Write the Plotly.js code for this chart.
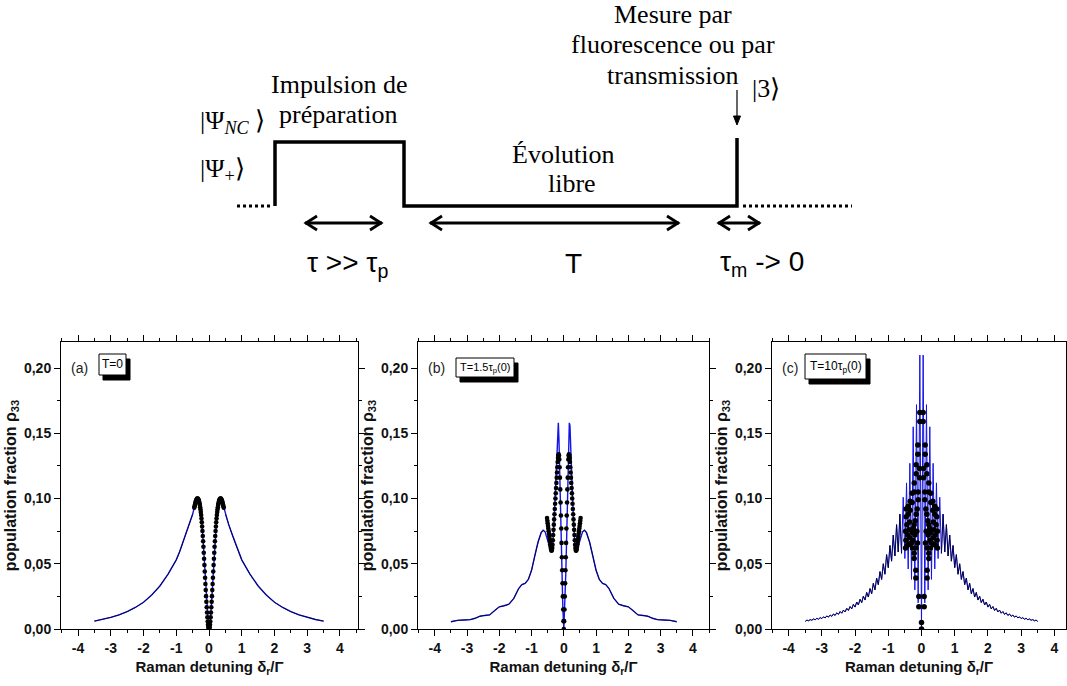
<!DOCTYPE html>
<html>
<head>
<meta charset="utf-8">
<script src="https://cdn.plot.ly/plotly-3.0.1.min.js"></script>
<style>html,body{margin:0;padding:0;background:#fff;}#chart{width:1067px;height:686px;}</style>
</head>
<body>
<div id="chart"></div>
<script>
// ---------- DATA ----------
// panel (a): T = 0
const xA = [-3.5,-3.25,-3,-2.75,-2.5,-2.25,-2,-1.75,-1.5,-1.25,-1,-0.9,-0.8,-0.7,-0.6,-0.5,
 -0.45,-0.44,-0.43,-0.42,-0.41,-0.40,-0.39,-0.38,-0.37,-0.36,-0.35,-0.34,-0.33,-0.32,-0.31,-0.30,
 -0.29,-0.28,-0.27,-0.26,-0.25,-0.24,-0.23,-0.22,-0.21,-0.20,-0.19,-0.18,-0.17,-0.16,-0.15,-0.14,
 -0.13,-0.12,-0.11,-0.10,-0.09,-0.08,-0.07,-0.06,-0.05,-0.04,-0.03,-0.02,-0.01,0,
 0.01,0.02,0.03,0.04,0.05,0.06,0.07,0.08,0.09,0.10,0.11,0.12,0.13,0.14,0.15,0.16,0.17,0.18,0.19,
 0.20,0.21,0.22,0.23,0.24,0.25,0.26,0.27,0.28,0.29,0.30,0.31,0.32,0.33,0.34,0.35,0.36,0.37,0.38,
 0.39,0.40,0.41,0.42,0.43,0.44,0.45,
 0.5,0.6,0.7,0.8,0.9,1,1.25,1.5,1.75,2,2.25,2.5,2.75,3,3.25,3.5];
const yA = [0.006,0.0073,0.0089,0.0108,0.0133,0.0165,0.0205,0.026,0.033,0.042,0.053,0.059,0.066,0.073,0.080,0.088,
 0.0930,0.0940,0.0950,0.0960,0.0970,0.0980,0.0987,0.0993,0.0997,0.1000,0.1000,0.0998,0.0995,0.0990,0.0983,0.0974,
 0.0963,0.0950,0.0934,0.0916,0.0896,0.0873,0.0847,0.0818,0.0786,0.0751,0.0713,0.0673,0.0630,0.0585,0.0538,0.0490,
 0.0441,0.0393,0.0345,0.0298,0.0252,0.0208,0.0167,0.0127,0.0090,0.0058,0.0033,0.0015,0.0004,0,
 0.0004,0.0015,0.0033,0.0058,0.0090,0.0127,0.0167,0.0208,0.0252,0.0298,0.0345,0.0393,0.0441,0.0490,0.0538,0.0585,0.0630,0.0673,0.0713,
 0.0751,0.0786,0.0818,0.0847,0.0873,0.0896,0.0916,0.0934,0.0950,0.0963,0.0974,0.0983,0.0990,0.0995,0.0998,0.1000,0.1000,0.0997,0.0993,
 0.0987,0.0980,0.0970,0.0960,0.0950,0.0940,0.0930,
 0.088,0.080,0.073,0.066,0.059,0.053,0.042,0.033,0.026,0.0205,0.0165,0.0133,0.0108,0.0089,0.0073,0.006];

// panel (b): T = 1.5 tau_p(0), blue curve
const xB = [-3.5,-3.3,-3.1,-2.9,-2.75,-2.6,-2.45,-2.3,-2.15,-2.0,-1.85,-1.7,-1.55,-1.4,-1.3,-1.2,-1.1,-1.0,-0.9,-0.8,
 -0.7,-0.64,-0.58,-0.52,-0.46,-0.42,-0.38,-0.34,-0.30,-0.26,-0.22,-0.19,-0.17,-0.15,-0.12,-0.09,-0.06,-0.03,0,
 0.03,0.06,0.09,0.12,0.15,0.17,0.19,0.22,0.26,0.30,0.34,0.38,0.42,0.46,0.52,0.58,0.64,0.7,
 0.8,0.9,1.0,1.1,1.2,1.3,1.4,1.55,1.7,1.85,2.0,2.15,2.3,2.45,2.6,2.75,2.9,3.1,3.3,3.5];
const yB = [0.0056,0.0066,0.0069,0.0072,0.0082,0.0098,0.0104,0.0108,0.0140,0.0170,0.0178,0.0190,0.0235,0.0310,0.0340,0.0350,0.0380,0.0450,0.0560,0.0665,
 0.0740,0.0757,0.0745,0.0700,0.0645,0.0612,0.0603,0.0660,0.0830,0.1080,0.1400,0.1560,0.1580,0.1450,0.1050,0.0720,0.0420,0.0160,0,
 0.0160,0.0420,0.0720,0.1050,0.1450,0.1580,0.1560,0.1400,0.1080,0.0830,0.0660,0.0603,0.0612,0.0645,0.0700,0.0745,0.0757,0.0740,
 0.0665,0.0560,0.0450,0.0380,0.0350,0.0340,0.0310,0.0235,0.0190,0.0178,0.0170,0.0140,0.0108,0.0104,0.0098,0.0082,0.0072,0.0069,0.0066,0.0056];
// panel (b): black dots
const xBdots = [-0.52,-0.51,-0.50,-0.49,-0.48,-0.47,-0.46,-0.45,-0.44,-0.43,-0.42,-0.41,-0.40,-0.39,-0.38,-0.37,-0.36,-0.35,
 -0.34,-0.33,-0.32,-0.31,-0.30,-0.29,-0.28,-0.27,-0.26,-0.25,-0.24,-0.23,-0.22,-0.21,-0.20,-0.19,-0.18,-0.17,-0.16,-0.15,
 -0.14,-0.13,-0.12,-0.11,-0.10,-0.09,-0.08,-0.07,-0.06,-0.05,-0.04,-0.03,-0.02,-0.01,0,
 0.01,0.02,0.03,0.04,0.05,0.06,0.07,0.08,0.09,0.10,0.11,0.12,0.13,0.14,0.15,0.16,0.17,0.18,0.19,0.20,
 0.21,0.22,0.23,0.24,0.25,0.26,0.27,0.28,0.29,0.30,0.31,0.32,0.33,0.34,0.35,0.36,0.37,0.38,0.39,0.40,
 0.41,0.42,0.43,0.44,0.45,0.46,0.47,0.48,0.49,0.50,0.51,0.52];
const yBdots = [0.085,0.083,0.081,0.079,0.077,0.075,0.073,0.071,0.069,0.067,0.065,0.063,0.0615,0.0605,0.060,0.0605,0.062,0.0645,
 0.068,0.072,0.076,0.080,0.084,0.088,0.092,0.096,0.100,0.104,0.108,0.112,0.116,0.120,0.124,0.128,0.131,0.133,0.134,0.133,
 0.130,0.124,0.116,0.107,0.097,0.087,0.077,0.066,0.055,0.045,0.035,0.025,0.015,0.006,0,
 0.006,0.015,0.025,0.035,0.045,0.055,0.066,0.077,0.087,0.097,0.107,0.116,0.124,0.130,0.133,0.134,0.133,0.131,0.128,0.124,
 0.120,0.116,0.112,0.108,0.104,0.100,0.096,0.092,0.088,0.084,0.080,0.076,0.072,0.068,0.0645,0.062,0.0605,0.060,0.0605,0.0615,
 0.063,0.065,0.067,0.069,0.071,0.073,0.075,0.077,0.079,0.081,0.083,0.085];

// panel (c): T = 10 tau_p(0), blue curve
const xC = [-3.5,-3.45,-3.4,-3.35,-3.3,-3.25,-3.2,-3.15,-3.1,-3.05,-3.0,-2.95,-2.9,-2.85,-2.8,-2.75,-2.7,-2.65,-2.6,-2.55,
 -2.5,-2.45,-2.4,-2.35,-2.3,-2.25,-2.2,-2.15,-2.1,-2.05,-2.0,-1.95,-1.9,-1.85,-1.8,-1.75,-1.7,-1.65,-1.6,-1.55,
 -1.5,-1.45,-1.4,-1.35,-1.3,-1.25,-1.2,-1.15,-1.1,-1.05,-1.0,-0.95,-0.9,-0.85,-0.8,-0.75,-0.7,-0.65,-0.6,-0.55,
 -0.5,-0.45,-0.4,-0.35,-0.3,-0.25,-0.2,-0.15,-0.1,-0.05,0,
 0.05,0.1,0.15,0.2,0.25,0.3,0.35,0.4,0.45,0.5,0.55,0.6,0.65,0.7,0.75,0.8,0.85,0.9,0.95,1.0,
 1.05,1.1,1.15,1.2,1.25,1.3,1.35,1.4,1.45,1.5,1.55,1.6,1.65,1.7,1.75,1.8,1.85,1.9,1.95,2.0,
 2.05,2.1,2.15,2.2,2.25,2.3,2.35,2.4,2.45,2.5,2.55,2.6,2.65,2.7,2.75,2.8,2.85,2.9,2.95,3.0,
 3.05,3.1,3.15,3.2,3.25,3.3,3.35,3.4,3.45,3.5];
const yC = [0.0058,0.0068,0.0063,0.0072,0.0067,0.0077,0.0071,0.0082,0.0075,0.0087,0.0080,0.0093,0.0085,0.0100,0.0091,0.0107,0.0097,0.0115,0.0104,0.0124,
 0.0112,0.0134,0.0121,0.0145,0.0131,0.0158,0.0142,0.0172,0.0154,0.0189,0.0168,0.0207,0.0184,0.0228,0.0202,0.0252,0.0222,0.028,0.0245,0.031,
 0.027,0.035,0.030,0.039,0.034,0.044,0.038,0.050,0.042,0.057,0.047,0.064,0.052,0.072,0.056,0.080,0.059,0.088,0.058,0.101,
 0.054,0.112,0.046,0.127,0.038,0.155,0.030,0.172,0.020,0.210,0,
 0.210,0.020,0.172,0.030,0.155,0.038,0.127,0.046,0.112,0.054,0.101,0.058,0.088,0.059,0.080,0.056,0.072,0.052,0.064,0.047,
 0.057,0.042,0.050,0.038,0.044,0.034,0.039,0.030,0.035,0.027,0.031,0.0245,0.028,0.0222,0.0252,0.0202,0.0228,0.0184,0.0207,0.0168,
 0.0189,0.0154,0.0172,0.0142,0.0158,0.0131,0.0145,0.0121,0.0134,0.0112,0.0124,0.0104,0.0115,0.0097,0.0107,0.0091,0.0100,0.0085,0.0093,0.0080,
 0.0087,0.0075,0.0082,0.0071,0.0077,0.0067,0.0072,0.0063,0.0068,0.0058];
// panel (c): black dots
const xCdots = [0,0,-0.08,-0.08,0.08,0.08,-0.17,-0.17,0.17,0.17,-0.22,0.22,
 -0.05,-0.05,0.05,0.05,-0.11,-0.11,0.11,0.11,-0.16,-0.16,0.16,0.16,-0.22,-0.22,0.22,0.22,
 -0.28,-0.28,0.28,0.28,-0.34,-0.34,0.34,0.34,-0.40,-0.40,0.40,0.40,-0.46,-0.46,0.46,0.46,
 -0.44,0.44,-0.48,0.48,-0.42,0.42,-0.47,0.47,-0.43,0.43,-0.48,0.48,
 -0.36,0.36,-0.38,0.38,-0.35,0.35,-0.37,0.37,
 -0.06,-0.06,0.06,0.06,-0.10,-0.10,0.10,0.10,
 -0.13,0.13,-0.16,0.16,-0.19,0.19,-0.22,0.22,-0.25,0.25,-0.28,0.28,
 -0.14,0.14,-0.20,0.20,-0.26,0.26,-0.30,0.30,-0.12,0.12,-0.17,0.17,-0.22,0.22,-0.27,0.27];
const yCdots = [0,0.005,0.017,0.025,0.017,0.025,0.039,0.045,0.039,0.045,0.054,0.054,
 0.166,0.159,0.166,0.159,0.141,0.134,0.141,0.134,0.126,0.119,0.126,0.119,0.112,0.105,0.112,0.105,
 0.104,0.097,0.104,0.097,0.098,0.091,0.098,0.091,0.094,0.088,0.094,0.088,0.092,0.086,0.092,0.086,
 0.080,0.080,0.075,0.075,0.072,0.072,0.068,0.068,0.064,0.064,0.062,0.062,
 0.082,0.082,0.076,0.076,0.070,0.070,0.065,0.065,
 0.123,0.116,0.123,0.116,0.105,0.099,0.105,0.099,
 0.092,0.092,0.088,0.088,0.083,0.083,0.080,0.080,0.077,0.077,0.074,0.074,
 0.075,0.075,0.072,0.072,0.068,0.068,0.066,0.066,0.066,0.066,0.062,0.062,0.058,0.058,0.062,0.062];

const xTicks = [-4,-3,-2,-1,0,1,2,3,4];
const xTickText = ['-4','-3','-2','-1','0','1','2','3','4'];
const panelLetters = ['(a)','(b)','(c)'];
const panelLabels = ['T=0','T=1.5τ<sub>p</sub>(0)','T=10τ<sub>p</sub>(0)'];
const xTitle = 'Raman detuning δ<sub>r</sub>/Γ';
const yTitle = 'population fraction ρ<sub>33</sub>';

// ---------- LAYOUT HELPERS ----------
const W = 1067, H = 686;
const px = v => v / W;
const py = v => 1 - v / H;
const SERIF = 'Liberation Serif, Times New Roman, serif';
const SANS = 'Liberation Sans, Arial, sans-serif';
const BLUE = '#1414e6';

function keepIf(xs, ys, test){ return ys.map((v,i)=> test(xs[i]) ? v : null); }

const traces = [];
function addPanel(n, xs, ys, xd, yd, outerLim, lw, ms){
  const xa = n===1 ? 'x' : 'x'+n, ya = n===1 ? 'y' : 'y'+n;
  traces.push({x:xs, y:ys, xaxis:xa, yaxis:ya, mode:'lines', line:{color:BLUE, width:lw}, hoverinfo:'skip'});
  traces.push({x:xs, y:keepIf(xs, ys, v=>Math.abs(v)>=outerLim), xaxis:xa, yaxis:ya, mode:'lines',
    connectgaps:false, line:{color:'#000030', width:0.8}, hoverinfo:'skip'});
  traces.push({x:xd, y:yd, xaxis:xa, yaxis:ya, mode:'markers', marker:{color:'#000', size:ms}, hoverinfo:'skip'});
}
// (a) dots are the central samples of the same curve
const xAd = xA.filter(v=>Math.abs(v)<=0.455);
const yAd = yA.filter((v,i)=>Math.abs(xA[i])<=0.455);
addPanel(1, xA, yA, xAd, yAd, 0.46, 1.4, 4.6);
addPanel(2, xB, yB, xBdots, yBdots, 0.55, 1.4, 4.6);
addPanel(3, xC, yC, xCdots, yCdots, 0.6, 1.0, 5.5);

const tickFont = {family:SANS, size:14, weight:'bold', color:'#111'};
const titleFont = {family:SANS, size:15, weight:'bold', color:'#111'};
function xAxis(dom, rng, anchor){
  return {domain:dom, range:rng, anchor:anchor, showline:true, linecolor:'#000', linewidth:1, mirror:'ticks',
    ticks:'outside', ticklen:6, tickwidth:1, tickcolor:'#000', tickmode:'array', tickvals:xTicks, ticktext:xTickText,
    minor:{dtick:0.5, tick0:0, ticks:'outside', ticklen:3, tickcolor:'#000', showgrid:false},
    showgrid:false, zeroline:false, tickfont:tickFont, fixedrange:true,
    title:{text:xTitle, font:titleFont, standoff:6}};
}
function yAxis(dom, anchor){
  return {domain:dom, range:[0,0.22], anchor:anchor, showline:true, linecolor:'#000', linewidth:1, mirror:'ticks',
    ticks:'outside', ticklen:6, tickwidth:1, tickcolor:'#000', dtick:0.05, tick0:0, tickformat:'.2f',
    minor:{dtick:0.025, tick0:0, ticks:'outside', ticklen:3, tickcolor:'#000', showgrid:false},
    showgrid:false, zeroline:false, tickfont:tickFont, fixedrange:true,
    title:{text:yTitle, font:{family:SANS, size:16, weight:'bold', color:'#111'}, standoff:3}};
}
const yDom = [py(629), py(342)];

const annotations = [];
// diagram texts
function txt(t, x, y, opt){
  annotations.push(Object.assign({text:t, x:px(x), y:py(y), xref:'paper', yref:'paper', showarrow:false,
    xanchor:'center', yanchor:'middle', font:{family:SERIF, size:26, color:'#000'}}, opt||{}));
}
txt('Impulsion de', 339, 84);
txt('préparation', 338, 114);
txt('Évolution', 563, 154);
txt('libre', 572, 184);
txt('Mesure par', 673, 15);
txt('fluorescence ou par', 673, 45);
txt('transmission', 672, 76);
txt('|3⟩', 750, 88, {xanchor:'left'});
txt('|Ψ<sub><i>NC</i></sub> ⟩', 198, 122, {xanchor:'left'});
txt('|Ψ<sub>+</sub>⟩', 198, 170, {xanchor:'left'});
txt('τ >> τ<sub>p</sub>', 347, 265, {font:{family:SANS, size:28, color:'#000'}});
txt('T', 573.5, 263, {font:{family:SANS, size:28, color:'#000'}});
txt('τ<sub>m</sub> -> 0', 762, 263, {font:{family:SANS, size:28, color:'#000'}});

// diagram lines
const shapes = [
  {type:'path', xref:'paper', yref:'paper',
   path:`M${px(275)},${py(206)} L${px(275)},${py(142)} L${px(404)},${py(142)} L${px(404)},${py(206)} L${px(737)},${py(206)} L${px(737)},${py(138)}`,
   line:{color:'#000', width:3.5}},
  {type:'line', xref:'paper', yref:'paper', x0:px(237), x1:px(272), y0:py(206), y1:py(206), line:{color:'#000', width:3, dash:'dot'}},
  {type:'line', xref:'paper', yref:'paper', x0:px(743), x1:px(852), y0:py(206), y1:py(206), line:{color:'#000', width:3, dash:'dot'}}
];
// double-headed arrows drawn as line + two chevrons
function dblArrow(x0, x1, y){
  const hw = 12, hh = 7;
  shapes.push({type:'path', xref:'paper', yref:'paper', line:{color:'#000', width:2.8},
    path:`M${px(x0)},${py(y)} L${px(x1)},${py(y)}`});
  shapes.push({type:'path', xref:'paper', yref:'paper', line:{color:'#000', width:2.8},
    path:`M${px(x0+hw)},${py(y-hh)} L${px(x0+1)},${py(y)} L${px(x0+hw)},${py(y+hh)}`});
  shapes.push({type:'path', xref:'paper', yref:'paper', line:{color:'#000', width:2.8},
    path:`M${px(x1-hw)},${py(y-hh)} L${px(x1-1)},${py(y)} L${px(x1-hw)},${py(y+hh)}`});
}
dblArrow(305, 382, 223);
dblArrow(430, 679, 223);
dblArrow(718, 760, 223);
// thin down arrow toward the measurement pulse
shapes.push({type:'line', xref:'paper', yref:'paper', x0:px(737), x1:px(737), y0:py(90), y1:py(118), line:{color:'#000', width:1.2}});
shapes.push({type:'path', xref:'paper', yref:'paper', fillcolor:'#000', line:{color:'#000', width:1},
  path:`M${px(733.5)},${py(116)} L${px(740.5)},${py(116)} L${px(737)},${py(125)} Z`});

// panel letters and boxed labels (shadowed boxes)
const letterX = [79.5, 436, 789.5];
const boxes = [[99,354,126,375],[456,358,514,377],[805,354,866,379]];
const labelSize = [12, 11, 12];
for(let i=0;i<3;i++){
  annotations.push({text:panelLetters[i], x:px(letterX[i]), y:py(368), xref:'paper', yref:'paper', showarrow:false,
    xanchor:'center', yanchor:'middle', font:{family:SANS, size:14, color:'#222'}});
  const [bx0, by0, bx1, by1] = boxes[i];
  shapes.push({type:'rect', xref:'paper', yref:'paper', x0:px(bx0+4), x1:px(bx1+4), y0:py(by0+5), y1:py(by1+5),
    fillcolor:'#000', line:{color:'#000', width:1}});
  shapes.push({type:'rect', xref:'paper', yref:'paper', x0:px(bx0), x1:px(bx1), y0:py(by0), y1:py(by1),
    fillcolor:'#fff', line:{color:'#000', width:1}});
  annotations.push({text:panelLabels[i], x:px((bx0+bx1)/2), y:py((by0+by1)/2), xref:'paper', yref:'paper', showarrow:false,
    xanchor:'center', yanchor:'middle', font:{family:SANS, size:labelSize[i], color:'#000'}});
}

const layout = {
  width:W, height:H, margin:{l:0, r:0, t:0, b:0}, paper_bgcolor:'#fff', plot_bgcolor:'#fff',
  showlegend:false, separators:', ', hovermode:false,
  xaxis: xAxis([px(61), px(358)], [-4.52, 4.55], 'y'),
  yaxis: yAxis(yDom, 'x'),
  xaxis2: xAxis([px(418), px(709)], [-4.52, 4.5], 'y2'),
  yaxis2: yAxis(yDom, 'x2'),
  xaxis3: xAxis([px(772), px(1066)], [-4.5, 4.35], 'y3'),
  yaxis3: yAxis(yDom, 'x3'),
  annotations: annotations, shapes: shapes
};
Plotly.newPlot('chart', traces, layout, {staticPlot:true, displayModeBar:false});
</script>
</body>
</html>
